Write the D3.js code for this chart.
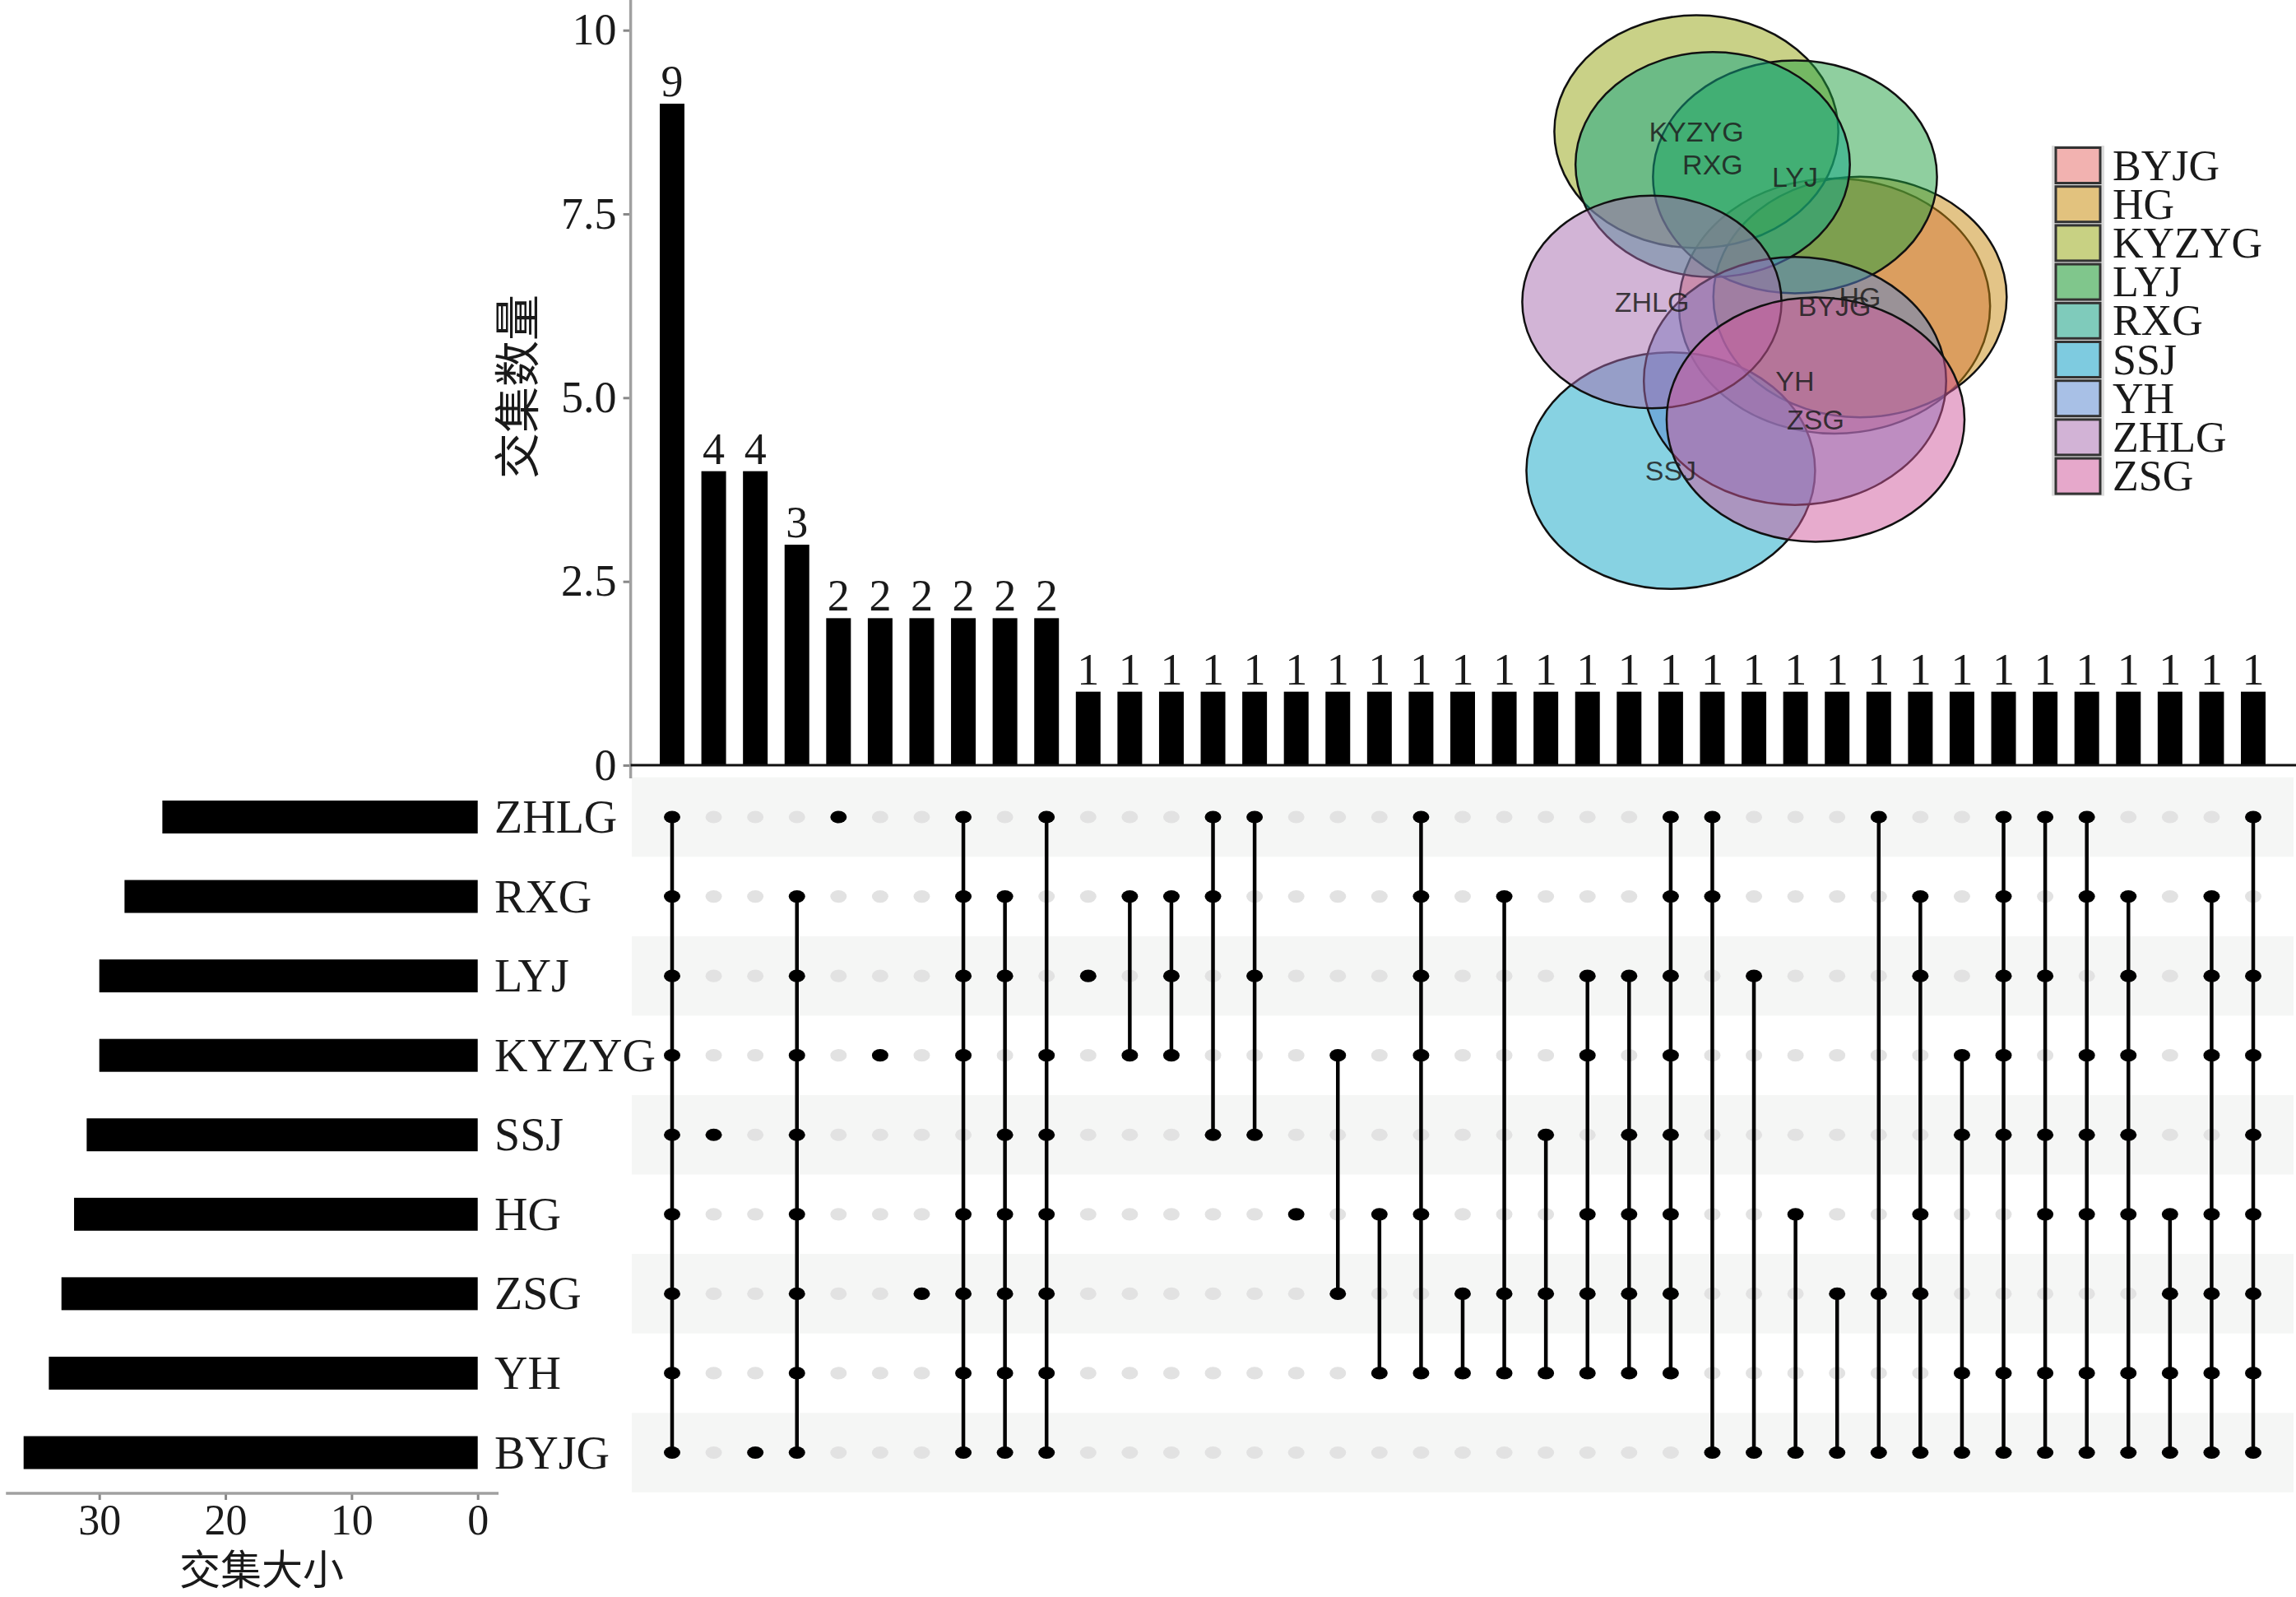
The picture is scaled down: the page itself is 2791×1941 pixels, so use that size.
<!DOCTYPE html>
<html><head><meta charset="utf-8">
<script src="https://cdn.jsdelivr.net/npm/d3@7"></script>
<style>body{margin:0;background:#fff} svg{display:block}</style>
</head><body>
<script>
// ---------------- DATA ----------------
const sets = ["ZHLG","RXG","LYJ","KYZYG","SSJ","HG","ZSG","YH","BYJG"]; // matrix rows, top to bottom
const setSizes = [25,28,30,30,31,32,33,34,36];
const intersectionCounts = [9,4,4,3,2,2,2,2,2,2,1,1,1,1,1,1,1,1,1,1,1,1,1,1,1,1,1,1,1,1,1,1,1,1,1,1,1,1,1];
const intersectionMembers = [
  ["ZHLG","RXG","LYJ","KYZYG","SSJ","HG","ZSG","YH","BYJG"],
  ["SSJ"],
  ["BYJG"],
  ["RXG","LYJ","KYZYG","SSJ","HG","ZSG","YH","BYJG"],
  ["ZHLG"],
  ["KYZYG"],
  ["ZSG"],
  ["ZHLG","RXG","LYJ","KYZYG","HG","ZSG","YH","BYJG"],
  ["RXG","LYJ","SSJ","HG","ZSG","YH","BYJG"],
  ["ZHLG","KYZYG","SSJ","HG","ZSG","YH","BYJG"],
  ["LYJ"],
  ["RXG","KYZYG"],
  ["RXG","LYJ","KYZYG"],
  ["ZHLG","RXG","SSJ"],
  ["ZHLG","LYJ","SSJ"],
  ["HG"],
  ["KYZYG","ZSG"],
  ["HG","YH"],
  ["ZHLG","RXG","LYJ","KYZYG","HG","YH"],
  ["ZSG","YH"],
  ["RXG","ZSG","YH"],
  ["SSJ","ZSG","YH"],
  ["LYJ","KYZYG","HG","ZSG","YH"],
  ["LYJ","SSJ","HG","ZSG","YH"],
  ["ZHLG","RXG","LYJ","KYZYG","SSJ","HG","ZSG","YH"],
  ["ZHLG","RXG","BYJG"],
  ["LYJ","BYJG"],
  ["HG","BYJG"],
  ["ZSG","BYJG"],
  ["ZHLG","ZSG","BYJG"],
  ["RXG","LYJ","HG","ZSG","BYJG"],
  ["KYZYG","SSJ","YH","BYJG"],
  ["ZHLG","RXG","LYJ","KYZYG","SSJ","YH","BYJG"],
  ["ZHLG","LYJ","SSJ","HG","YH","BYJG"],
  ["ZHLG","RXG","KYZYG","SSJ","HG","YH","BYJG"],
  ["RXG","LYJ","KYZYG","SSJ","HG","YH","BYJG"],
  ["HG","ZSG","YH","BYJG"],
  ["RXG","LYJ","KYZYG","HG","ZSG","YH","BYJG"],
  ["ZHLG","LYJ","KYZYG","SSJ","HG","ZSG","YH","BYJG"]
];
const countTicks = [0,2.5,5,7.5,10];
const sizeTicks = [30,20,10,0];
const yTitle = "交集数量";
const xTitle = "交集大小";
// Venn / legend (alphabetical order)
const vennSets = ["BYJG","HG","KYZYG","LYJ","RXG","SSJ","YH","ZHLG","ZSG"];
const vennColors = ["#e06660","#c88a10","#93a310","#20a040","#10a585","#10a5c5","#5a86cf","#a66aae","#d0579c"];
const legendColors = ["#f2b2b0","#e2c27e","#c8d183","#80c68c","#7fcbbb","#7ecbe0","#a8c0e6","#d2b3d6","#e6a8cb"];
// Venn centres in layout units (isotropic), mapped through scales below
const vennCX = [352.5,377.9,214.8,313.1,231.1,189.3,313.1,170.5,333.6];
const vennCY = [372,361,160,215,200,572,463,367,510];

// ---------------- DRAW ----------------
const W = 2791, H = 1941;
const svg = d3.select("body").append("svg").attr("width", W).attr("height", H);
const serif = "'Liberation Serif','Times New Roman',serif";
const cjk = "'Noto Sans CJK SC','Noto Sans CJK JP',sans-serif";

const nCol = intersectionCounts.length;
const xCol = d3.scalePoint().domain(d3.range(nCol)).range([817, 2739]);
const step = xCol.step();
const yTop = d3.scaleLinear().domain([0, 10]).range([930, 36.7]);
const yRow = d3.scalePoint().domain(sets).range([993, 1765.5]);
const rowStep = yRow.step();
const xLeft = d3.scaleLinear().domain([0, 30]).range([580.7, 120.7]);

// matrix background stripes
svg.append("g").selectAll("rect").data(sets.filter((d,i)=>i%2===0)).join("rect")
  .attr("x", xCol(0) - step*0.97).attr("width", (xCol(nCol-1) - xCol(0)) + step*1.94)
  .attr("y", d => yRow(d) - rowStep/2).attr("height", rowStep)
  .attr("fill", "#f5f6f5");

// top bars
const gTop = svg.append("g");
gTop.selectAll("rect").data(intersectionCounts).join("rect")
  .attr("x", (d,i) => xCol(i) - 15).attr("width", 30)
  .attr("y", d => yTop(d)).attr("height", d => yTop(0) - yTop(d))
  .attr("fill", "#000");
gTop.selectAll("text").data(intersectionCounts).join("text")
  .attr("x", (d,i) => xCol(i)).attr("y", d => yTop(d) - 9)
  .attr("text-anchor", "middle").attr("font-family", serif).attr("font-size", 54)
  .attr("fill", "#1a1a1a").text(d => d);

// top y axis
const yAxis = d3.axisLeft(yTop).tickValues(countTicks).tickSize(9).tickPadding(8).tickSizeOuter(0)
  .tickFormat(d => d === 0 ? "0" : d === 10 ? "10" : d3.format(".1f")(d));
const gy = svg.append("g").attr("transform", "translate(766.6,0)").call(yAxis);
gy.select(".domain").remove();
gy.selectAll(".tick line").attr("stroke", "#888").attr("stroke-width", 3);
gy.selectAll(".tick text").attr("font-family", serif).attr("font-size", 54).attr("fill", "#1a1a1a");
gy.append("line").attr("x1", 0).attr("x2", 0).attr("y1", yTop(10.42)).attr("y2", yTop(-0.18))
  .attr("stroke", "#a0a0a0").attr("stroke-width", 3.5);
// baseline
svg.append("line").attr("x1", 766.6).attr("x2", W).attr("y1", yTop(0)).attr("y2", yTop(0))
  .attr("stroke", "#111").attr("stroke-width", 3);

svg.append("text").attr("transform", `translate(624,470) rotate(-90)`)
  .attr("text-anchor", "middle").attr("dominant-baseline", "central")
  .attr("font-family", cjk).attr("font-size", 56).attr("fill", "#1a1a1a").text(yTitle);

// matrix
const gM = svg.append("g");
const cells = [];
intersectionMembers.forEach((mem, i) => sets.forEach(s => cells.push({i, s, on: mem.includes(s)})));
gM.selectAll("ellipse.off").data(cells.filter(c => !c.on)).join("ellipse")
  .attr("cx", c => xCol(c.i)).attr("cy", c => yRow(c.s)).attr("rx", 10).attr("ry", 7.6)
  .attr("fill", "#e2e2e2");
gM.selectAll("line").data(intersectionMembers.filter(m => m.length > 1)).join("line")
  .attr("x1", m => xCol(intersectionMembers.indexOf(m))).attr("x2", m => xCol(intersectionMembers.indexOf(m)))
  .attr("y1", m => d3.min(m, s => yRow(s))).attr("y2", m => d3.max(m, s => yRow(s)))
  .attr("stroke", "#000").attr("stroke-width", 4.5);
gM.selectAll("ellipse.on").data(cells.filter(c => c.on)).join("ellipse")
  .attr("cx", c => xCol(c.i)).attr("cy", c => yRow(c.s)).attr("rx", 10).attr("ry", 7.6)
  .attr("fill", "#000");

// set labels
svg.append("g").selectAll("text").data(sets).join("text")
  .attr("x", 601).attr("y", d => yRow(d)).attr("dominant-baseline", "central")
  .attr("font-family", serif).attr("font-size", 56).attr("fill", "#1a1a1a").text(d => d);

// left bars
svg.append("g").selectAll("rect").data(setSizes).join("rect")
  .attr("x", d => xLeft(d)).attr("width", d => xLeft(0) - xLeft(d))
  .attr("y", (d,i) => yRow(sets[i]) - 20).attr("height", 40).attr("fill", "#000");

const xAxis = d3.axisBottom(xLeft).tickValues(sizeTicks).tickSize(8).tickPadding(5).tickSizeOuter(0);
const gx = svg.append("g").attr("transform", "translate(0,1815)").call(xAxis);
gx.select(".domain").remove();
gx.selectAll(".tick line").attr("stroke", "#888").attr("stroke-width", 3);
gx.selectAll(".tick text").attr("font-family", serif).attr("font-size", 52).attr("fill", "#1a1a1a");
gx.append("line").attr("x1", xLeft(37.4)).attr("x2", xLeft(-1.65)).attr("y1", 0).attr("y2", 0)
  .attr("stroke", "#a0a0a0").attr("stroke-width", 3.5);
svg.append("text").attr("x", 318).attr("y", 1904).attr("text-anchor", "middle")
  .attr("dominant-baseline", "central").attr("font-family", cjk).attr("font-size", 50)
  .attr("fill", "#1a1a1a").text(xTitle);

// Venn diagram
const sizeOf = s => setSizes[sets.indexOf(s)];
const rV = d3.scaleSqrt().domain([0, 36]).range([0, 155]);
const xV = d3.scaleLinear().domain([0, 100]).range([1800, 1800 + 122]);
const yV = d3.scaleLinear().domain([0, 100]).range([0, 100]);
const gV = svg.append("g");
vennSets.forEach((s, i) => {
  const r = rV(sizeOf(s));
  gV.append("ellipse").attr("cx", xV(vennCX[i])).attr("cy", yV(vennCY[i]))
    .attr("rx", xV(r) - xV(0)).attr("ry", yV(r) - yV(0))
    .attr("fill", vennColors[i]).attr("fill-opacity", 0.5)
    .attr("stroke", "#111").attr("stroke-width", 2.5);
});
gV.selectAll("text").data(vennSets).join("text")
  .attr("x", (d,i) => xV(vennCX[i])).attr("y", (d,i) => yV(vennCY[i]))
  .attr("text-anchor", "middle").attr("dominant-baseline", "central")
  .attr("font-family", "'Liberation Sans',Arial,sans-serif").attr("font-size", 34)
  .attr("fill", "#1e1e1e").attr("fill-opacity", 0.85).text(d => d);

// legend
const yLeg = d3.scalePoint().domain(vennSets).range([201, 201 + 47.2*8]);
const gL = svg.append("g");
gL.selectAll("rect.bg").data(vennSets).join("rect").attr("class","bg")
  .attr("x", 2494).attr("width", 64).attr("y", d => yLeg(d) - 24).attr("height", 48).attr("fill", "#dcdcdc");
gL.selectAll("rect.k").data(vennSets).join("rect").attr("class","k")
  .attr("x", 2499).attr("width", 54).attr("y", d => yLeg(d) - 21.5).attr("height", 43)
  .attr("fill", (d,i) => legendColors[i])
  .attr("stroke", "#333").attr("stroke-width", 3);
gL.selectAll("text").data(vennSets).join("text")
  .attr("x", 2568).attr("y", d => yLeg(d)).attr("dominant-baseline", "central")
  .attr("font-family", serif).attr("font-size", 52).attr("fill", "#1a1a1a").text(d => d);
</script>
</body></html>
